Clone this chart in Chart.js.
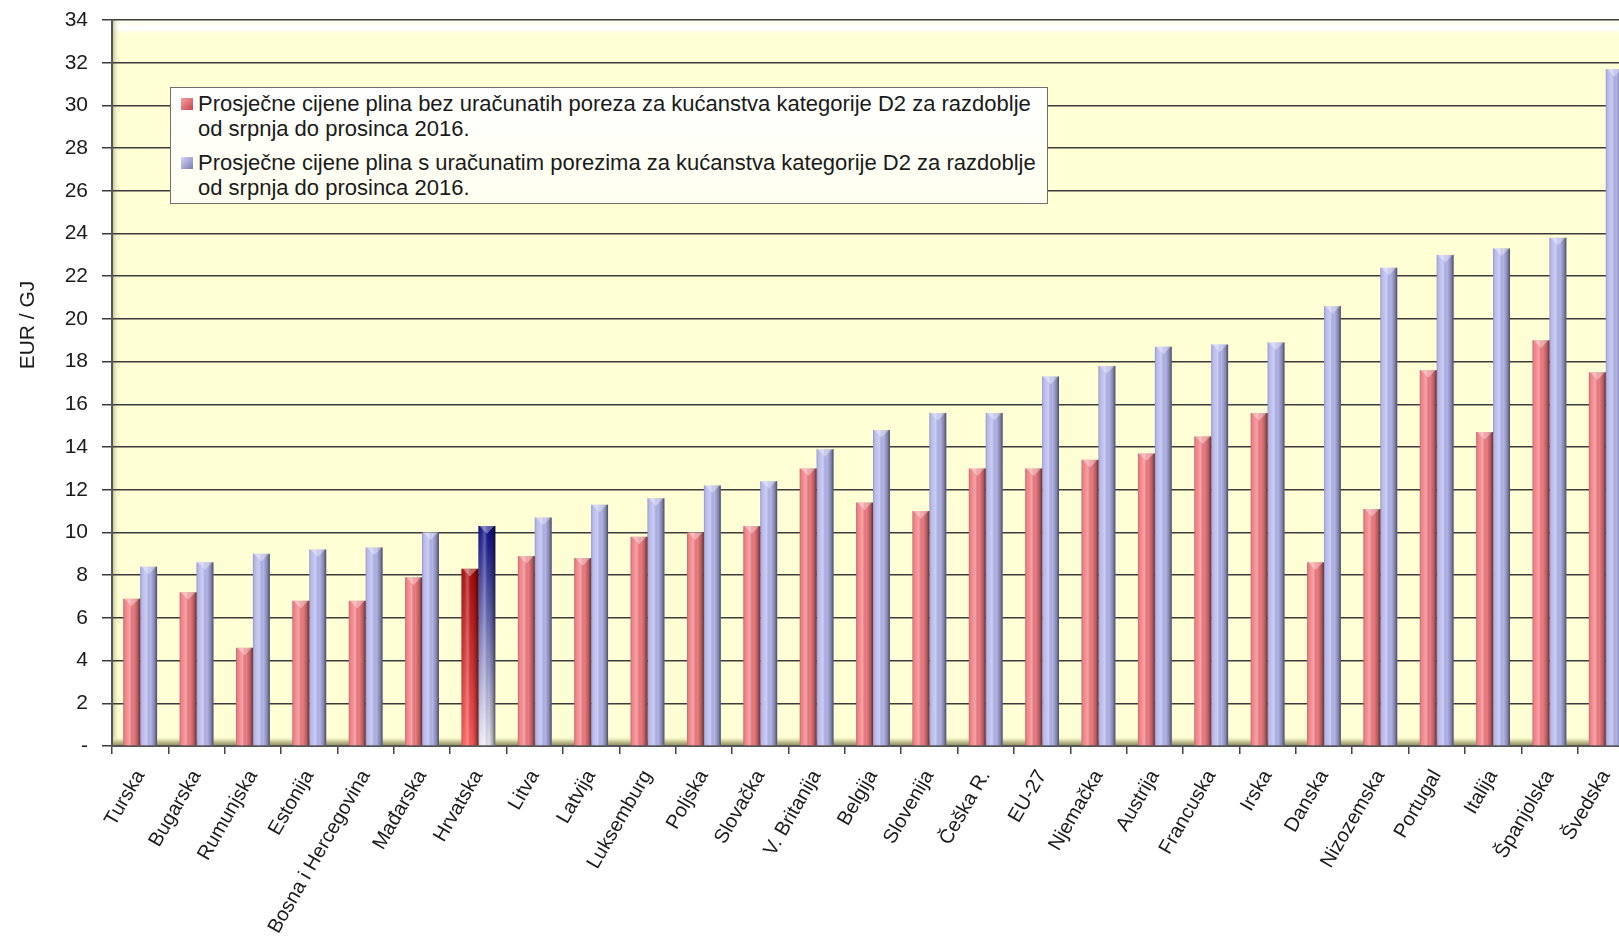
<!DOCTYPE html>
<html>
<head>
<meta charset="utf-8">
<script src="https://cdn.jsdelivr.net/npm/chart.js@4.4.0/dist/chart.umd.min.js"></script>
<style>
  html, body { margin: 0; padding: 0; background: #fff; overflow: hidden; }
  #wrap { position: relative; width: 1660px; height: 942px; }
  #legend {
    position: absolute; left: 170px; top: 87px; width: 878px; height: 117px;
    border: 1px solid #6f6f6f; box-sizing: border-box;
    background: linear-gradient(#ffffff, #fffff0);
    font: 22px "Liberation Sans", Arial, sans-serif; color: #1a1a1a;
    padding: 3px 0 0 10px;
  }
  .item { position: relative; padding-left: 17px; line-height: 25px; margin-bottom: 9px; }
  .mark { position: absolute; left: 0; top: 7px; width: 12px; height: 12px; }
</style>
</head>
<body>
<div id="wrap">
  <canvas id="chart" width="1660" height="942" style="width:1660px;height:942px"></canvas>
  <div id="legend">
    <div class="item"><span class="mark" style="background:linear-gradient(135deg,#f7a0a4,#c8444c)"></span>Prosječne cijene plina bez uračunatih poreza za kućanstva kategorije D2 za razdoblje<br>od srpnja do prosinca 2016.</div>
    <div class="item"><span class="mark" style="background:linear-gradient(135deg,#d6d6fa,#7c7cb4)"></span>Prosječne cijene plina s uračunatim porezima za kućanstva kategorije D2 za razdoblje<br>od srpnja do prosinca 2016.</div>
  </div>
</div>
<script>
// --- podaci ---
const countries = ['Turska', 'Bugarska', 'Rumunjska', 'Estonija', 'Bosna i Hercegovina', 'Mađarska',
  'Hrvatska', 'Litva', 'Latvija', 'Luksemburg', 'Poljska', 'Slovačka', 'V. Britanija', 'Belgija',
  'Slovenija', 'Češka R.', 'EU-27', 'Njemačka', 'Austrija', 'Francuska', 'Irska', 'Danska',
  'Nizozemska', 'Portugal', 'Italija', 'Španjolska', 'Švedska'];
const withoutTax = [6.9, 7.2, 4.6, 6.8, 6.8, 7.9, 8.3, 8.9, 8.8, 9.8, 10.0, 10.3, 13.0, 11.4,
  11.0, 13.0, 13.0, 13.4, 13.7, 14.5, 15.6, 8.6, 11.1, 17.6, 14.7, 19.0, 17.5];
const withTax = [8.4, 8.6, 9.0, 9.2, 9.3, 10.0, 10.3, 10.7, 11.3, 11.6, 12.2, 12.4, 13.9, 14.8,
  15.6, 15.6, 17.3, 17.8, 18.7, 18.8, 18.9, 20.6, 22.4, 23.0, 23.3, 23.8, 31.7];
const seriesLabels = [
  'Prosječne cijene plina bez uračunatih poreza za kućanstva kategorije D2 za razdoblje od srpnja do prosinca 2016.',
  'Prosječne cijene plina s uračunatim porezima za kućanstva kategorije D2 za razdoblje od srpnja do prosinca 2016.'
];
const yTitle = 'EUR / GJ';
const highlight = 'Hrvatska';

const FONT = '"Liberation Sans", Arial, sans-serif';
const RED = '#f27d83';
const BLUE = '#b6b8ee';
const hrIdx = countries.indexOf(highlight);

// vertikalni gradijent za istaknutu zemlju (Hrvatska)
function hrFill(ctx, base, topColor, bottomColor) {
  if (ctx.dataIndex !== hrIdx) return base;
  const chart = ctx.chart;
  if (!chart.chartArea || !chart.scales.y) return base;
  const y = chart.scales.y;
  const g = chart.ctx.createLinearGradient(0, y.getPixelForValue(ctx.raw), 0, y.getPixelForValue(0));
  g.addColorStop(0, topColor);
  g.addColorStop(1, bottomColor);
  return g;
}

// pozadina plohe: žuti zid, pod i lijevi zid
const wallPlugin = {
  id: 'wall',
  beforeDraw(chart) {
    const { ctx, chartArea: a } = chart;
    ctx.save();
    ctx.fillStyle = '#ffffd6';
    ctx.fillRect(a.left, a.top, a.right - a.left, a.bottom - a.top);
    // svijetla traka na vrhu
    let g = ctx.createLinearGradient(0, a.top, 0, a.top + 14);
    g.addColorStop(0, 'rgba(255,255,235,1)');
    g.addColorStop(0.6, 'rgba(255,255,255,1)');
    g.addColorStop(1, 'rgba(255,255,214,1)');
    ctx.fillStyle = g;
    ctx.fillRect(a.left, a.top, a.right - a.left, 14);
    // lijevi zid
    g = ctx.createLinearGradient(a.left, 0, a.left + 8, 0);
    g.addColorStop(0, 'rgba(150,150,100,0.7)');
    g.addColorStop(1, 'rgba(255,255,214,0)');
    ctx.fillStyle = g;
    ctx.fillRect(a.left, a.top, 8, a.bottom - a.top);
    // pod
    g = ctx.createLinearGradient(0, a.bottom - 10, 0, a.bottom);
    g.addColorStop(0, 'rgba(255,255,214,0)');
    g.addColorStop(0.5, 'rgba(200,200,150,0.9)');
    g.addColorStop(1, 'rgba(130,130,90,1)');
    ctx.fillStyle = g;
    ctx.fillRect(a.left, a.bottom - 10, a.right - a.left, 10);
    ctx.restore();
  }
};

// 3D sjenčanje stupaca
const shadePlugin = {
  id: 'shade',
  afterDatasetsDraw(chart) {
    const ctx = chart.ctx;
    ctx.save();
    chart.data.datasets.forEach((ds, di) => {
      chart.getDatasetMeta(di).data.forEach(bar => {
        const w = bar.width, left = bar.x - w / 2, right = bar.x + w / 2;
        const top = bar.y, bottom = bar.base;
        const g = ctx.createLinearGradient(left, 0, right, 0);
        g.addColorStop(0, 'rgba(0,0,0,0.22)');
        g.addColorStop(0.15, 'rgba(255,255,255,0.05)');
        g.addColorStop(0.38, 'rgba(255,255,255,0.3)');
        g.addColorStop(0.62, 'rgba(0,0,0,0.02)');
        g.addColorStop(0.85, 'rgba(0,0,0,0.28)');
        g.addColorStop(1, 'rgba(0,0,0,0.6)');
        ctx.fillStyle = g;
        ctx.fillRect(left, top, w, bottom - top);
        // kosi vrh
        ctx.beginPath();
        ctx.moveTo(left + 1, top);
        ctx.lineTo(right - 1, top);
        ctx.lineTo(bar.x, top + w * 0.45);
        ctx.closePath();
        ctx.fillStyle = 'rgba(255,255,255,0.35)';
        ctx.fill();
      });
    });
    ctx.restore();
  }
};

// naslov osi y
const yTitlePlugin = {
  id: 'ytitle',
  afterDraw(chart) {
    const ctx = chart.ctx;
    ctx.save();
    ctx.translate(28, 325);
    ctx.rotate(-Math.PI / 2);
    ctx.font = '21px ' + FONT;
    ctx.fillStyle = '#1a1a1a';
    ctx.textAlign = 'center';
    ctx.textBaseline = 'middle';
    ctx.fillText(yTitle, 0, 0);
    ctx.restore();
  }
};

new Chart(document.getElementById('chart').getContext('2d'), {
  type: 'bar',
  data: {
    labels: countries,
    datasets: [{
      label: seriesLabels[0],
      data: withoutTax,
      backgroundColor: c => hrFill(c, RED, '#a80a0a', '#ff5a5a'),
      borderWidth: 0,
      categoryPercentage: 0.6,
      barPercentage: 1.0
    }, {
      label: seriesLabels[1],
      data: withTax,
      backgroundColor: c => hrFill(c, BLUE, '#0c0c86', '#ececf6'),
      borderWidth: 0,
      categoryPercentage: 0.6,
      barPercentage: 1.0
    }]
  },
  options: {
    responsive: false,
    animation: false,
    layout: { padding: { top: 20, right: 26, left: 0, bottom: 0 } },
    plugins: { legend: { display: false }, tooltip: { enabled: false } },
    scales: {
      y: {
        min: 0, max: 34,
        afterFit: s => { s.width = 112; s.paddingTop = 0; s.paddingBottom = 0; },
        ticks: {
          stepSize: 2,
          padding: 14,
          color: '#1a1a1a',
          font: { family: FONT, size: 21 },
          callback: v => v === 0 ? '-' : v
        },
        grid: { color: '#3c3c3c', lineWidth: 1.5, tickLength: 10 },
        border: { color: '#555555', width: 2 }
      },
      x: {
        afterFit: s => { s.height = 196; },
        ticks: {
          minRotation: 60, maxRotation: 60, autoSkip: false,
          padding: 12,
          color: '#1a1a1a',
          font: { family: FONT, size: 20 }
        },
        grid: { offset: true, drawOnChartArea: false, color: '#444444', lineWidth: 1.5, tickLength: 8 },
        border: { color: '#555555', width: 2 }
      }
    }
  },
  plugins: [wallPlugin, shadePlugin, yTitlePlugin]
});
</script>
</body>
</html>
